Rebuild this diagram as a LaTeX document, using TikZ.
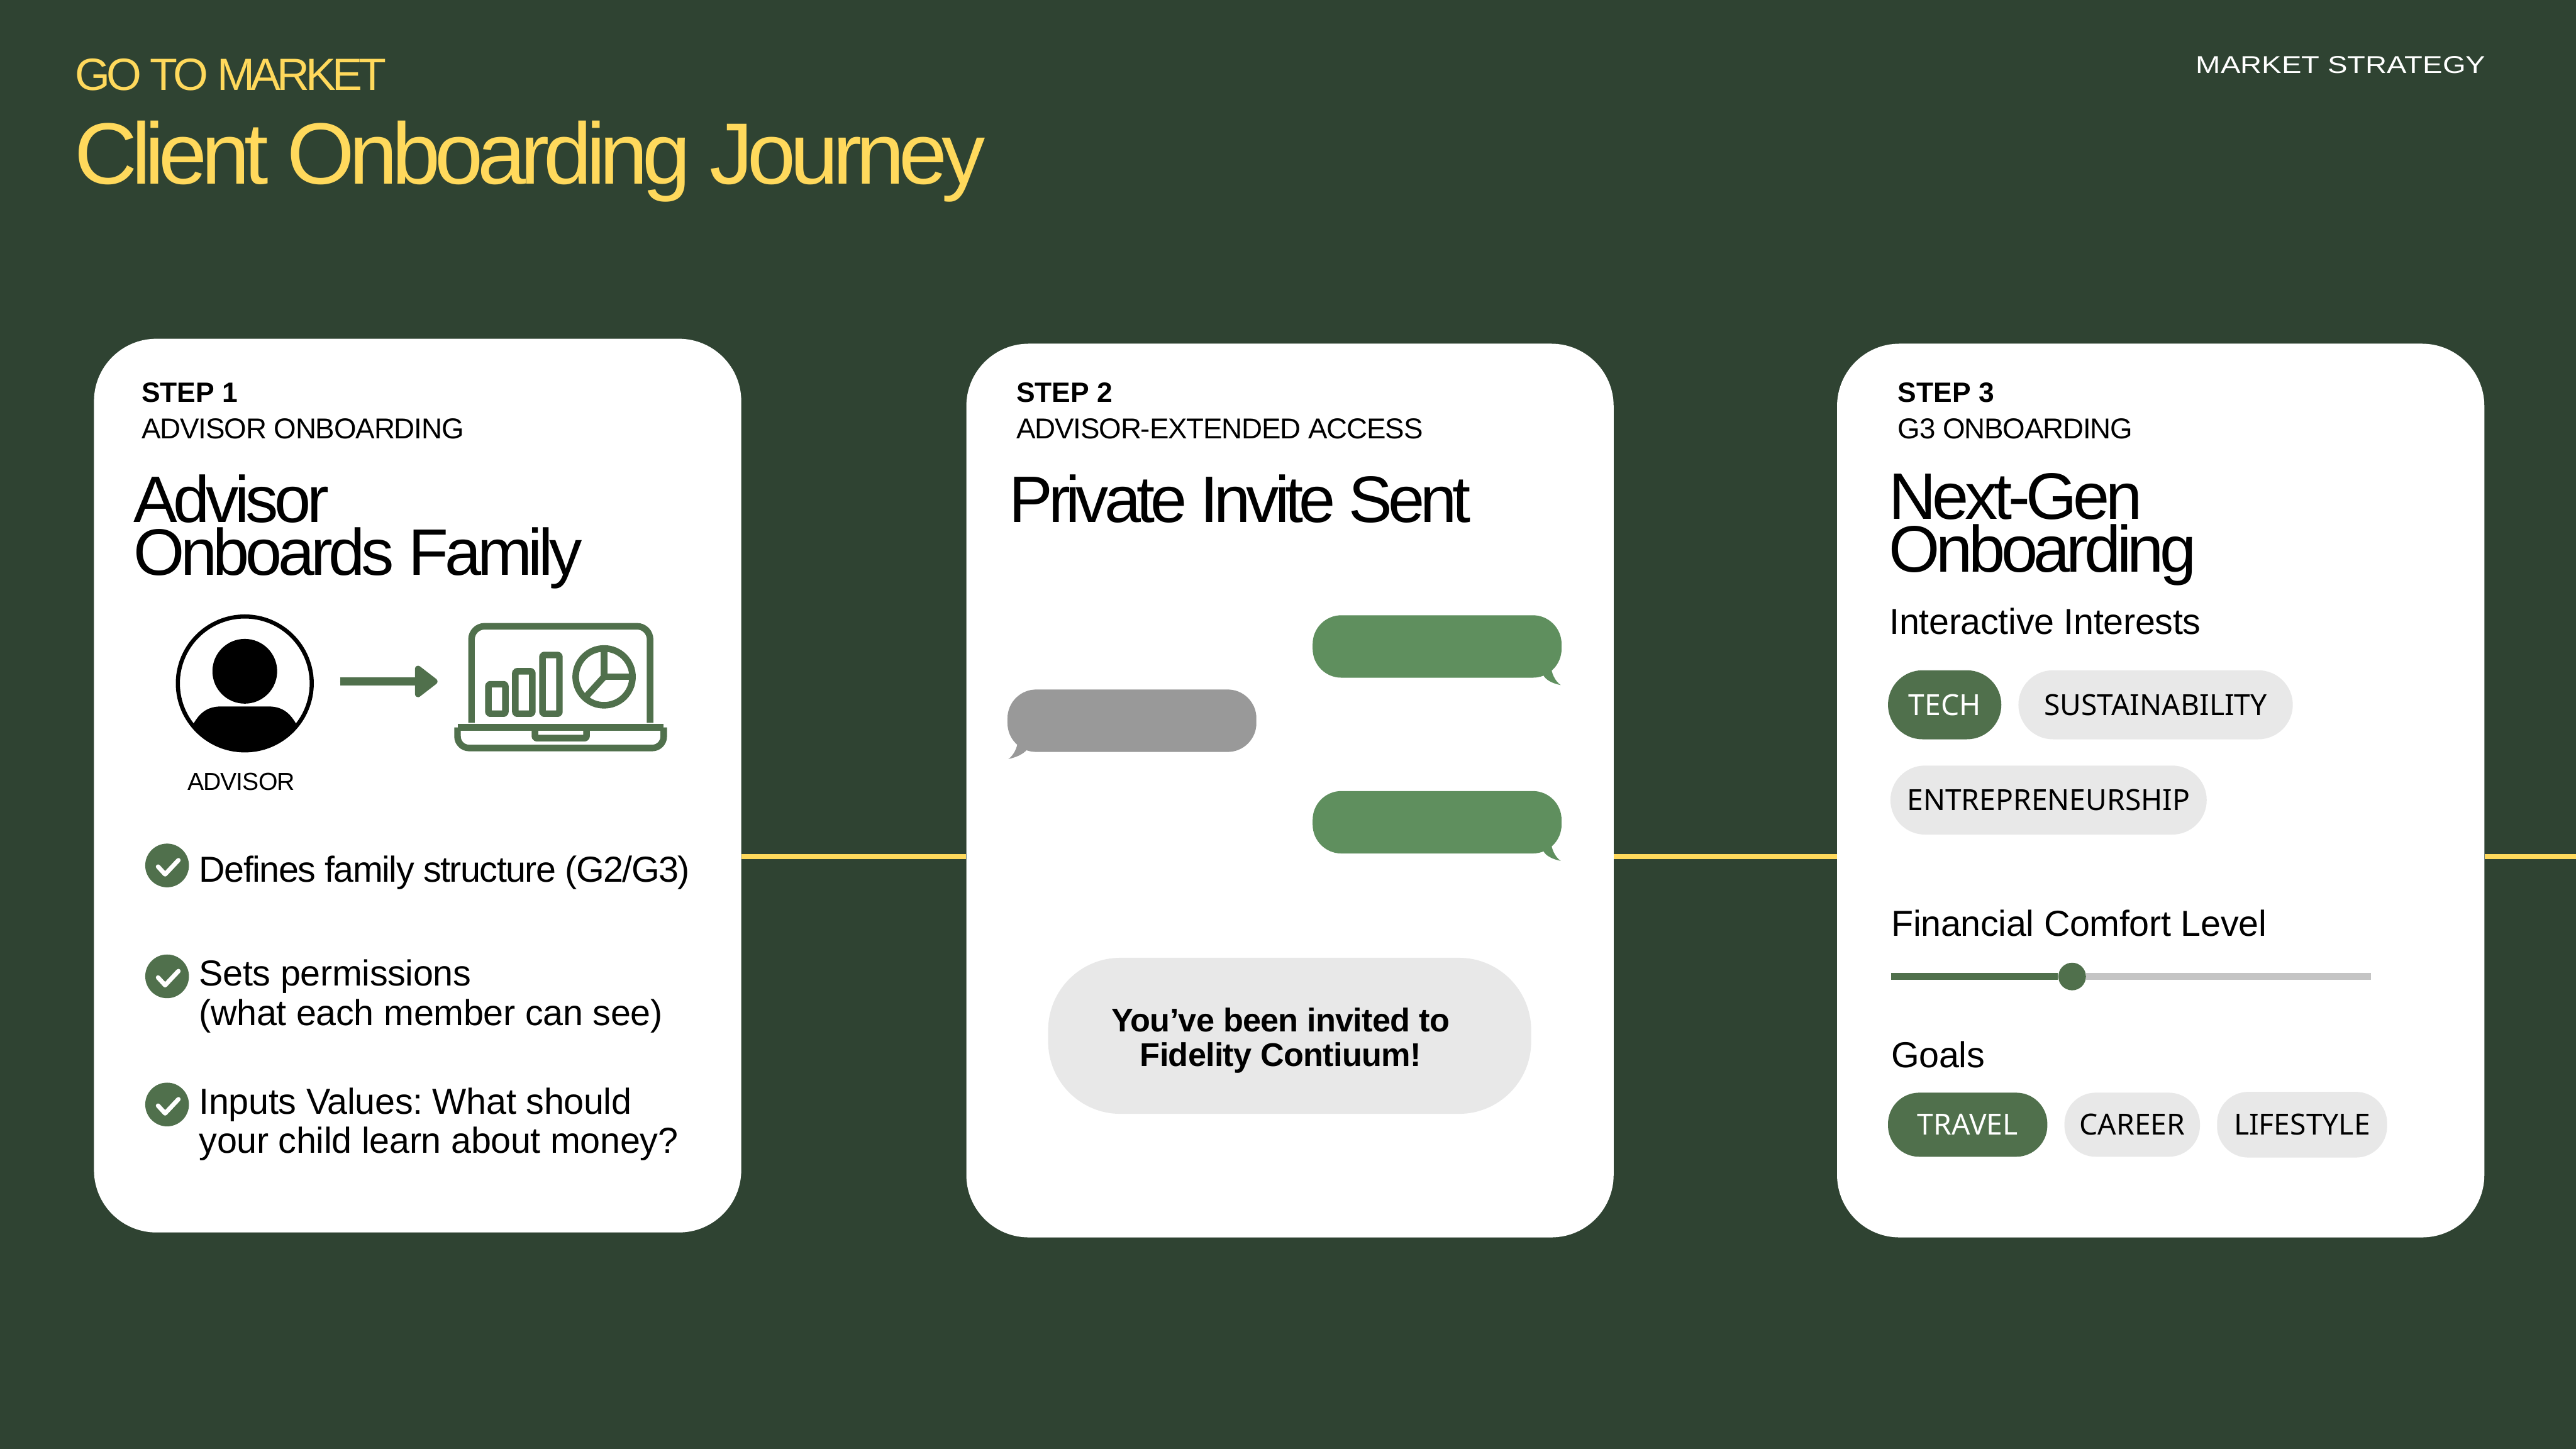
\documentclass[tikz,border=0pt]{standalone}
\usepackage{fontspec}
\usetikzlibrary{arrows.meta,positioning}
\setmainfont{Liberation Sans}
\newfontfamily\headfont[LetterSpace=-6]{Liberation Sans}
\newfontfamily\titlefont[LetterSpace=-6.5]{Liberation Sans}
\newfontfamily\privatefont[LetterSpace=-6.8]{Liberation Sans}
\newfontfamily\kickerfont[LetterSpace=-8.5]{Liberation Sans}
\newfontfamily\subfont[LetterSpace=-2.5]{Liberation Sans}
\newfontfamily\bodyfont[LetterSpace=-0.6]{Liberation Sans}
\newfontfamily\tightbody[LetterSpace=-2.7]{Liberation Sans}
\newfontfamily\invitefont[LetterSpace=-1.4]{Liberation Sans}
\newfontfamily\chipfont{Noto Sans}
\newfontfamily\widefont[FakeStretch=1.22]{Liberation Sans}
\definecolor{journeybg}{HTML}{2F4332}
\definecolor{journeyyellow}{HTML}{FFD95C}
\definecolor{journeygreen}{HTML}{50704C}
\definecolor{bubblegreen}{HTML}{5F8F5E}
\definecolor{bubblegrey}{HTML}{999999}
\definecolor{chipgrey}{HTML}{E8E8E8}
\definecolor{slidergrey}{HTML}{C4C4C4}

\begin{document}
\frenchspacing
\begin{tikzpicture}[
  x=1pt, y=-1pt,
  card/.style={fill=white, rounded corners=38pt, minimum width=394pt, minimum height=544pt, anchor=north west, inner sep=0pt},
  txt/.style={inner sep=0pt, anchor=base west, align=left},
  steplabel/.style={txt, font=\fontsize{17}{20}\selectfont\bfseries},
  sublabel/.style={txt, font=\subfont\fontsize{17.5}{20}\selectfont},
  headline/.style={txt, font=\headfont\fontsize{40}{32}\selectfont},
  body/.style={txt, font=\bodyfont\fontsize{22}{24}\selectfont},
  chip/.style={rounded corners=19pt, inner sep=0pt, font=\chipfont\fontsize{17.7}{20}\selectfont},
  chipon/.style={chip, fill=journeygreen, text=white},
  chipoff/.style={chip, fill=chipgrey, text=black},
  bubble/.style={rounded corners=17.5pt, minimum width=151.5pt, minimum height=38pt, inner sep=0pt},
  checkdot/.style={circle, fill=journeygreen, minimum size=26.6pt, inner sep=0pt},
  tick/.style={draw=white, line width=2.7pt, line cap=round, line join=round},
  timeline/.style={draw=journeyyellow, line width=3pt},
  icon/.style={draw=journeygreen, line width=4pt, line join=round},
  flow/.style={-{Triangle[length=15pt, width=22pt, round]}, draw=journeygreen, fill=journeygreen, line width=4.8pt}
]
\fill[journeybg] (0,0) rectangle (1568,882);
\useasboundingbox (0,0) rectangle (1568,882);

\node[txt, text=journeyyellow, font=\kickerfont\fontsize{27.5}{30}\selectfont] (kicker) at (45.5,55) {GO TO MARKET};
\node[txt, text=journeyyellow, font=\titlefont\fontsize{53}{60}\selectfont] (title) at (45,112) {Client Onboarding Journey};
\node[txt, text=white, font=\widefont\fontsize{14.8}{18}\selectfont] (section) at (1336.5,44.5) {MARKET STRATEGY};

\node[card] (card1) at (57,206) {};
\node[card] (card2) at (588,209) {};
\node[card] (card3) at (1118,209) {};

\coordinate (lineend) at (1568,521.3);
\draw[timeline] (card1.east |- lineend) -- (card2.west |- lineend);
\draw[timeline] (card2.east |- lineend) -- (card3.west |- lineend);
\draw[timeline] (card3.east |- lineend) -- (lineend);

\node[steplabel] (step1) at (86,245) {STEP 1};
\node[sublabel] (sub1) at (86,267) {ADVISOR ONBOARDING};
\node[headline] (head1) at (81,350) {Advisor\\Onboards Family};

\node[circle, draw=black, line width=2.5pt, minimum size=81.5pt, inner sep=0pt] (person) at (149,416) {};
\begin{scope}
  \clip (149,416) circle (41pt);
  \fill (149,408.6) circle (19.7pt);
  \fill (110,470) -- (117.5,441) .. controls (122,433) and (127,430) .. (135,430) -- (163,430) .. controls (171,430) and (176,433) .. (180.5,441) -- (190,470) -- cycle;
\end{scope}
\node[inner sep=0pt, minimum width=129.5pt, minimum height=16.5pt] (laptopbase) at (341.25,449) {};
\draw[icon, rounded corners=8pt] (287,440) -- (287,381.2) -- (395.7,381.2) -- (395.7,440);
\draw[icon, rounded corners=1.5pt] (278.5,442.8) -- (404,442.8);
\draw[icon, rounded corners=7pt] (278.5,442.8) -- (278.5,455.3) -- (404,455.3) -- (404,442.8);
\draw[icon, rounded corners=1pt] (325.6,443) -- (325.6,449.3) -- (357,449.3) -- (357,443);
\foreach \barleft/\bartop in {297.3/416.5, 313.7/408.6, 330.2/398.7}
  \draw[icon, rounded corners=1pt] (\barleft,\bartop) rectangle (\barleft+10.3,434.4);
\draw[icon] (367.7,412) circle (17.3pt);
\draw[icon] (367.7,394.7) -- (367.7,412) -- (385,412);
\draw[icon] (367.7,412) -- (357.2,423.5);
\draw[flow, shorten <=16pt, shorten >=10pt] ([yshift=1.2pt]person.east) -- ([yshift=1.2pt]person.east -| laptopbase.west);
\node[txt, font=\subfont\fontsize{15}{18}\selectfont] (advisor) at (114,481) {ADVISOR};

\foreach \name/\ypos in {a/526.8, b/594.3, c/672.3} {
  \node[checkdot] (check\name) at (101.7,\ypos) {};
  \draw[tick] (96.2,\ypos+0.7) -- (100.5,\ypos+5.4) -- (108.6,\ypos-3.2);
}
\node[body, font=\tightbody\fontsize{22}{24}\selectfont] (item1) at (121,537) {Defines family structure (G2/G3)};
\node[body] (item2) at (121,624) {Sets permissions\\(what each member can see)};
\node[body] (item3) at (121,702) {Inputs Values: What should\\your child learn about money?};

\node[steplabel] (step2) at (618.5,245) {STEP 2};
\node[sublabel] (sub2) at (618.5,267) {ADVISOR-EXTENDED ACCESS};
\node[headline, font=\privatefont\fontsize{40}{32}\selectfont] (head2) at (614,318) {Private Invite Sent};

\node[bubble, fill=bubblegreen] (bubble1) at (874.75,393.5) {};
\fill[bubblegreen] (944.4,407.7) .. controls (945,411) and (947,415) .. (950,417) .. controls (945,416) and (941,414) .. (939.4,411) -- cycle;
\node[bubble, fill=bubblegrey] (bubble2) at (689,438.7) {};
\fill[bubblegrey] (619.3,452.8) .. controls (618.7,456) and (616.7,460) .. (613.8,462) .. controls (618.7,461) and (622.7,459) .. (625,456.5) -- cycle;
\node[bubble, fill=bubblegreen] (bubble3) at (874.75,500.5) {};
\fill[bubblegreen] (944.4,514.7) .. controls (945,518) and (947,522) .. (950,524) .. controls (945,523) and (941,521) .. (939.4,518) -- cycle;

\node[fill=chipgrey, rounded corners=44pt, minimum width=294pt, minimum height=95pt, inner sep=0pt] (invite) at (785,630.5) {};
\node[inner sep=0pt, align=center, font=\invitefont\fontsize{20}{21}\selectfont\bfseries] (invitetext) at (779.5,633.5) {You’ve been invited to\\Fidelity Contiuum!};

\node[steplabel] (step3) at (1155,245) {STEP 3};
\node[sublabel] (sub3) at (1155,267) {G3 ONBOARDING};
\node[headline] (head3) at (1149.5,348) {Next-Gen\\Onboarding};
\node[body] (interests) at (1150,386) {Interactive Interests};

\node[chipon, minimum width=69pt, minimum height=42pt, rounded corners=21pt, anchor=west] (tech) at (1149,429) {TECH};
\node[chipoff, minimum width=167pt, minimum height=42pt, rounded corners=21pt, right=10pt of tech] (sustainability) {SUSTAINABILITY};
\node[chipoff, minimum width=192.5pt, minimum height=42pt, rounded corners=21pt, anchor=west] (entrepreneurship) at (1150.5,487) {ENTREPRENEURSHIP};

\node[body] (comfort) at (1151,570) {Financial Comfort Level};
\coordinate (sliderstart) at (1151,594.4);
\coordinate (sliderend) at (1443,594.4);
\node[circle, fill=journeygreen, minimum size=16.8pt, inner sep=0pt] (knob) at (1261.3,594.4) {};
\draw[draw=slidergrey, line width=4.2pt] (knob) -- (sliderend);
\draw[draw=journeygreen, line width=4.2pt] (sliderstart) -- (knob);

\node[body] (goals) at (1151,650) {Goals};
\node[chipon, minimum width=97pt, minimum height=39pt, anchor=west] (travel) at (1149,684.6) {TRAVEL};
\node[chipoff, minimum width=82.5pt, minimum height=39pt, right=10pt of travel] (career) {CAREER};
\node[chipoff, minimum width=103.5pt, minimum height=40pt, right=10pt of career] (lifestyle) {LIFESTYLE};
\end{tikzpicture}
\end{document}
